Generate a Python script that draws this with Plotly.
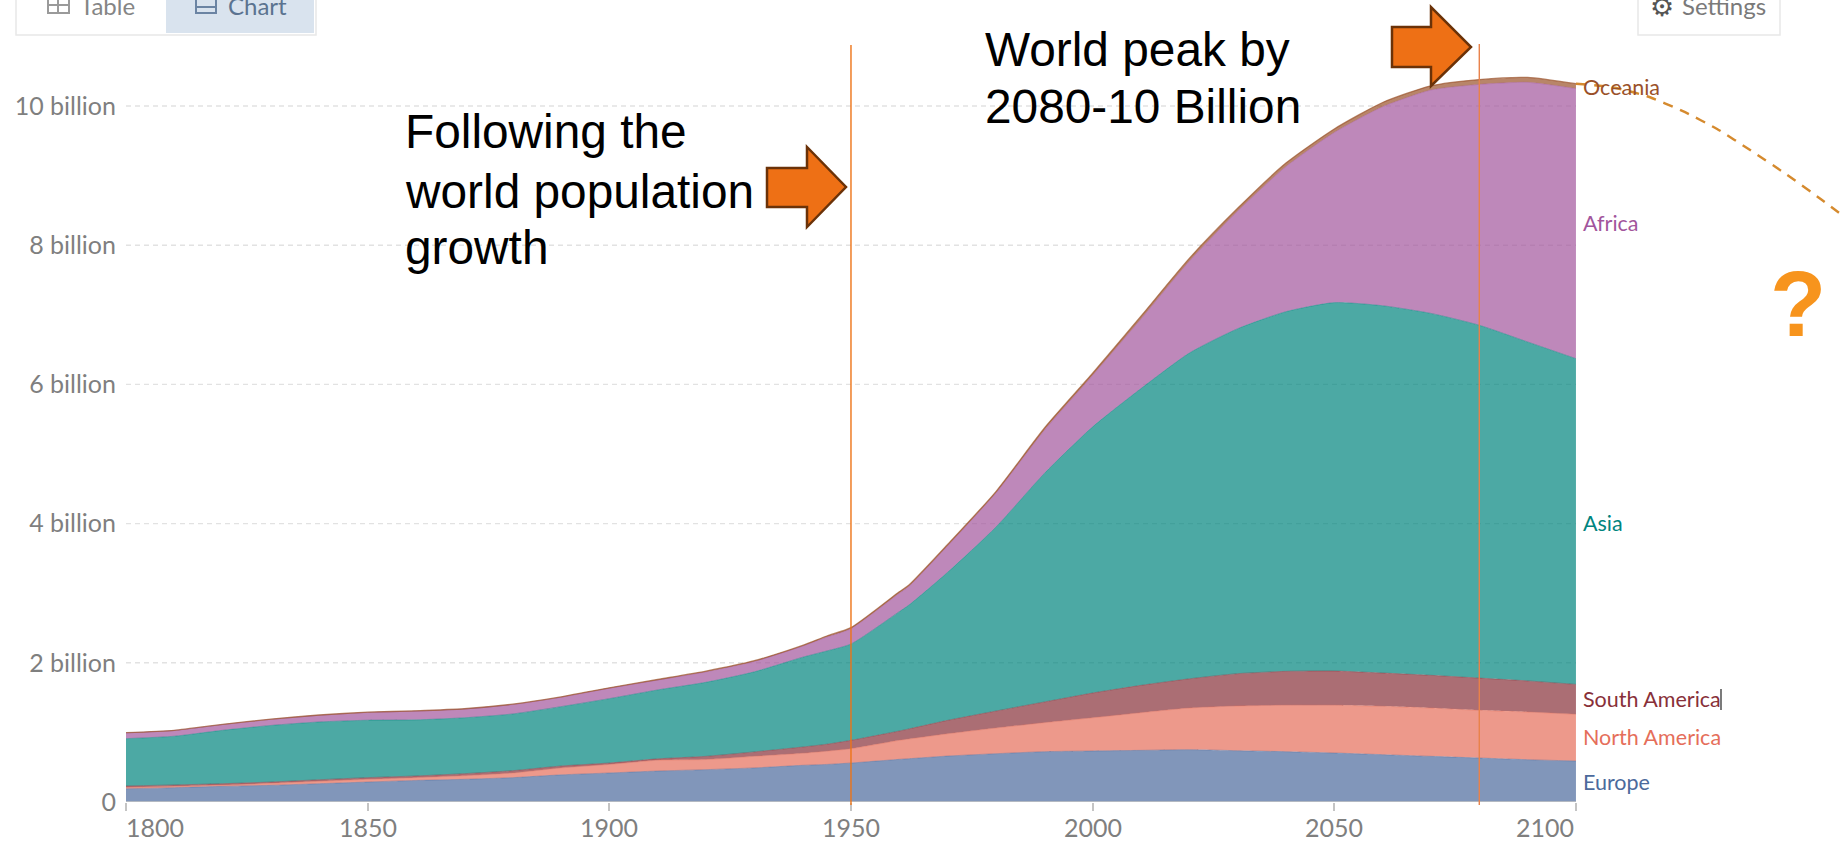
import plotly.graph_objects as go

# Upper edge of each stacked band, in billions of people
years = [1800, 1810, 1820, 1830, 1840, 1850, 1860, 1870, 1880, 1890, 1900, 1910, 1920, 1930, 1940, 1945,
         1950, 1960, 1962, 1970, 1980, 1990, 2000, 2010, 2020, 2030, 2040, 2050, 2060, 2070, 2080, 2090, 2100]
europe_edge = [0.19, 0.206, 0.225, 0.24, 0.263, 0.287, 0.31, 0.326, 0.35, 0.39, 0.417, 0.445, 0.465, 0.49, 0.527, 0.54,
               0.56, 0.613, 0.622, 0.66, 0.694, 0.723, 0.733, 0.742, 0.752, 0.737, 0.723, 0.704, 0.68, 0.656, 0.632, 0.608, 0.589]
north_america_edge = [0.21, 0.225, 0.244, 0.268, 0.297, 0.326, 0.35, 0.378, 0.417, 0.49, 0.54, 0.6, 0.61, 0.656, 0.70, 0.73,
                      0.766, 0.886, 0.905, 0.98, 1.063, 1.14, 1.21, 1.283, 1.35, 1.38, 1.39, 1.39, 1.375, 1.35, 1.317, 1.293, 1.26]
south_america_edge = [0.23, 0.245, 0.263, 0.287, 0.32, 0.35, 0.374, 0.407, 0.45, 0.517, 0.56, 0.62, 0.656, 0.72, 0.79, 0.83,
                      0.886, 1.02, 1.05, 1.173, 1.307, 1.437, 1.566, 1.676, 1.77, 1.844, 1.877, 1.882, 1.853, 1.82, 1.78, 1.74, 1.69]
asia_edge = [0.91, 0.945, 1.03, 1.10, 1.15, 1.175, 1.18, 1.21, 1.265, 1.37, 1.485, 1.61, 1.72, 1.87, 2.08, 2.17,
             2.27, 2.735, 2.83, 3.30, 3.95, 4.72, 5.39, 5.94, 6.45, 6.80, 7.045, 7.175, 7.13, 7.02, 6.85, 6.61, 6.37]
africa_edge = [0.994, 1.028, 1.113, 1.187, 1.247, 1.287, 1.307, 1.337, 1.40, 1.505, 1.634, 1.752, 1.87, 2.02, 2.24, 2.37,
               2.49, 3.00, 3.10, 3.68, 4.44, 5.34, 6.13, 6.94, 7.77, 8.49, 9.13, 9.62, 9.99, 10.23, 10.31, 10.34, 10.25]
oceania_edge = [0.996, 1.03, 1.115, 1.19, 1.25, 1.29, 1.31, 1.34, 1.405, 1.51, 1.64, 1.76, 1.88, 2.03, 2.25, 2.385,
                2.505, 3.02, 3.118, 3.70, 4.46, 5.37, 6.16, 6.98, 7.81, 8.53, 9.18, 9.67, 10.05, 10.29, 10.38, 10.41, 10.32]

decline_years = [2100, 2107.5, 2114.7, 2122, 2129.2, 2136.2, 2143.5, 2150.7, 2155.5]
decline_values = [10.32, 10.27, 10.14, 9.93, 9.67, 9.36, 9.02, 8.66, 8.41]

x_ticks = [1800, 1850, 1900, 1950, 2000, 2050, 2100]
y_ticks = [0, 2, 4, 6, 8, 10]
y_tick_labels = ["0", "2 billion", "4 billion", "6 billion", "8 billion", "10 billion"]

bands = [
    ("Europe", europe_edge, "76,106,156"),
    ("North America", north_america_edge, "229,110,90"),
    ("South America", south_america_edge, "136,48,57"),
    ("Asia", asia_edge, "0,132,126"),
    ("Africa", africa_edge, "162,85,156"),
    ("Oceania", oceania_edge, "154,81,41"),
]
band_label_rows = {"Europe": 782, "North America": 737, "South America": 699,
                   "Asia": 523, "Africa": 223, "Oceania": 87}

WIDTH, HEIGHT = 1844, 846
LEFT, BOTTOM = 126, 44
PLOT_W, PLOT_H = WIDTH - LEFT, HEIGHT - BOTTOM


def px(x):
    return (x - LEFT) / PLOT_W


def py(y):
    return (PLOT_H - y) / PLOT_H


def outline(points):
    return "M " + " L ".join(f"{px(x):.5f},{py(y):.5f}" for x, y in points) + " Z"


fig = go.Figure()

for i, (name, edge, rgb) in enumerate(bands):
    is_top = name == "Oceania"
    fig.add_trace(go.Scatter(
        x=years, y=edge, name=name, mode="lines",
        line=dict(color=f"rgba({rgb},0.7)", width=1.3 if is_top else 0.6, shape="spline", smoothing=0.6),
        fill="tozeroy" if i == 0 else "tonexty",
        fillcolor=f"rgba({rgb},0.7)",
        hoverinfo="name+x+y",
    ))

fig.add_trace(go.Scatter(
    x=decline_years, y=decline_values, mode="lines", name="Decline",
    line=dict(color="#d58a2e", width=2.4, dash="10px,8px", shape="spline", smoothing=0.6),
    hoverinfo="skip",
))

shapes = []
annotations = []

# Dashed gridlines stop at the last year of the data
for v in y_ticks[1:]:
    shapes.append(dict(type="line", xref="x", yref="y", x0=1800, x1=2100, y0=v, y1=v, layer="below",
                       line=dict(color="#e2e2e2", width=1.4, dash="5px,4px")))
shapes.append(dict(type="line", xref="x", yref="y", x0=1800, x1=2100, y0=0, y1=0,
                   line=dict(color="#c4c4c4", width=1.5)))

# Markers for 1950 and the peak year
for year, colour, top in [(1950, "#ed7417", 45), (2080, "#e9824a", 44)]:
    shapes.append(dict(type="line", xref="x", yref="paper", x0=year, x1=year, y0=py(805), y1=py(top),
                       line=dict(color=colour, width=1.4)))

# Block arrows
arrow_fill, arrow_edge = "#ee7015", "#6b3208"
for left, base, tip, top, shaft_top, mid, shaft_bottom, bottom in [
    (767, 807, 846, 147, 168, 187, 207, 227),
    (1392, 1431, 1471, 7, 27, 47, 67, 86),
]:
    shapes.append(dict(type="path", xref="paper", yref="paper", fillcolor=arrow_fill,
                       line=dict(color=arrow_edge, width=2.5),
                       path=outline([(left, shaft_top), (base, shaft_top), (base, top), (tip, mid),
                                     (base, bottom), (base, shaft_bottom), (left, shaft_bottom)])))

# Text cursor beside the South America label
shapes.append(dict(type="line", xref="paper", yref="paper", x0=px(1721), x1=px(1721), y0=py(710), y1=py(689),
                   line=dict(color="#333333", width=1.3)))

# Toolbar buttons cut off along the top edge
shapes += [
    dict(type="rect", xref="paper", yref="paper", x0=px(16), x1=px(316), y0=py(35), y1=py(-10),
         fillcolor="#ffffff", line=dict(color="#e8e8e8", width=1.5)),
    dict(type="rect", xref="paper", yref="paper", x0=px(166), x1=px(314), y0=py(33), y1=py(-10),
         fillcolor="#d9e3ee", line=dict(width=0)),
    dict(type="rect", xref="paper", yref="paper", x0=px(1638), x1=px(1780), y0=py(35), y1=py(-10),
         fillcolor="#ffffff", line=dict(color="#e8e8e8", width=1.5)),
    # Table icon
    dict(type="rect", xref="paper", yref="paper", x0=px(48), x1=px(69), y0=py(13), y1=py(-5),
         line=dict(color="#9a9a9a", width=2)),
    dict(type="line", xref="paper", yref="paper", x0=px(48), x1=px(69), y0=py(5), y1=py(5),
         line=dict(color="#9a9a9a", width=2)),
    dict(type="line", xref="paper", yref="paper", x0=px(58), x1=px(58), y0=py(13), y1=py(-5),
         line=dict(color="#9a9a9a", width=2)),
    # Chart icon
    dict(type="rect", xref="paper", yref="paper", x0=px(196), x1=px(216), y0=py(13), y1=py(-5),
         line=dict(color="#6b84a3", width=2)),
    dict(type="line", xref="paper", yref="paper", x0=px(196), x1=px(216), y0=py(7), y1=py(7),
         line=dict(color="#6b84a3", width=2)),
]


def text(label, x, y, size, colour, family="Lato", anchor="left", weight="normal"):
    annotations.append(dict(text=label, x=px(x), y=py(y), xref="paper", yref="paper", showarrow=False,
                            xanchor=anchor, yanchor="middle", align=anchor,
                            font=dict(family=family, size=size, color=colour, weight=weight)))


# Year labels: the first and last sit inside the tick
for year in x_ticks:
    xpos = LEFT + (year - 1800) * (1576 - LEFT) / 300
    anchor = "left" if year == 1800 else "right" if year == 2100 else "center"
    text(str(year), xpos - (2 if year == 1800 else 0), 827, 25, "#7f7f7f", anchor=anchor)

for name, edge, rgb in bands:
    text(name, 1581, band_label_rows[name], 21.5, f"rgb({rgb})")

sans = "Liberation Sans"
text("Following the", 403, 132, 47.8, "#000000", sans)
text("world population", 403, 191, 47.8, "#000000", sans)
text("growth", 403, 248, 47.8, "#000000", sans)
text("World peak by", 983, 49, 47.8, "#000000", sans)
text("2080-10 Billion", 983, 107, 47.8, "#000000", sans)
text("?", 1798, 304, 92, "#f7941d", sans, anchor="center", weight="bold")

text("Table", 78, 5, 24, "#858585")
text("Chart", 226, 5, 24, "#5b7390")
text("Settings", 1680, 5, 24, "#7a7a7a")
text("\u2699", 1662, 7, 27, "#555555", "DejaVu Sans", anchor="center", weight="bold")

fig.update_layout(
    width=WIDTH, height=HEIGHT,
    margin=dict(l=LEFT, r=0, t=0, b=BOTTOM, autoexpand=False),
    paper_bgcolor="#ffffff", plot_bgcolor="rgba(0,0,0,0)",
    showlegend=False, shapes=shapes, annotations=annotations,
    xaxis=dict(range=[1800, 2155.46], tickvals=x_ticks, ticktext=[""] * len(x_ticks), ticks="outside",
               ticklen=8, tickcolor="#c4c4c4", tickwidth=1.5, showgrid=False, zeroline=False, showline=False),
    yaxis=dict(range=[0, 11.523], tickvals=y_ticks, ticktext=y_tick_labels, ticks="", showgrid=False,
               zeroline=False, showline=False, ticklabelstandoff=9,
               tickfont=dict(family="Lato", size=25, color="#7f7f7f")),
)

fig.write_html("out.html", config=dict(displayModeBar=False))
